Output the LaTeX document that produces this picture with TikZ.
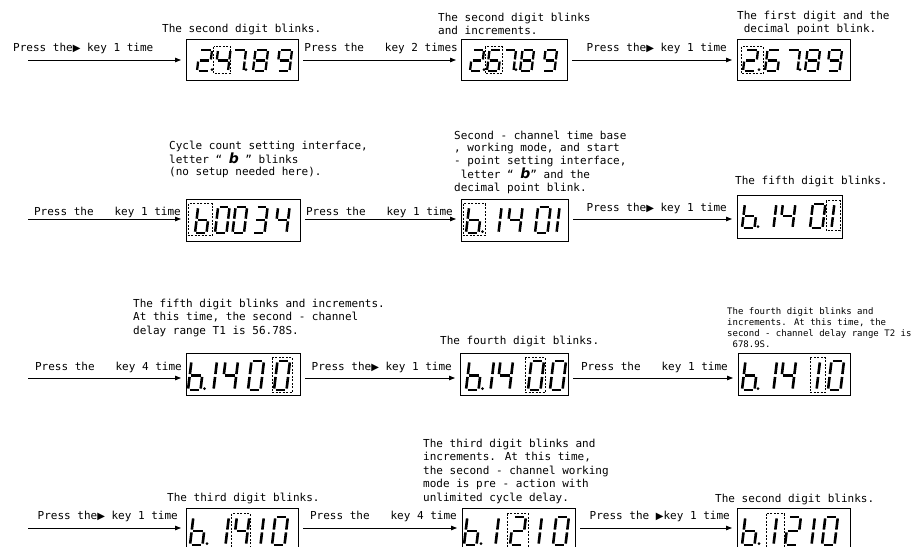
\documentclass[tikz,border=0pt]{standalone}
\usepackage{fontspec}
\setmainfont{DejaVu Sans Mono}
\newfontfamily\symfont{DejaVu Sans}
\usetikzlibrary{arrows.meta}
\makeatletter
\newcommand\sdig[2]{%
  \begin{scope}[shift={(#1,\db)},xslant=0.12]
    \foreach \n/\xa/\ya/\xb/\yb in {a/0.12/1/0.88/1,b/1/0.95/1/0.55,c/1/0.45/1/0.05,d/0.12/0/0.88/0,e/0/0.45/0/0.05,f/0/0.95/0/0.55,g/0.12/0.5/0.88/0.5}{%
      \expandafter\in@\expandafter{\n}{#2}%
      \ifin@\draw[seg] ({\xa*\dw},{-\ya*\dh}) -- ({\xb*\dw},{-\yb*\dh});\fi}%
  \end{scope}}
\makeatother
\newcommand\sdp[1]{\fill (#1,{\db-1.3}) circle (1.5pt);}
\newcommand\sdash[2]{\draw[dashbox] (#1,{\db-\dh-3.5}) rectangle (#2,{\db+2.5});}
\newcommand\tri{{\symfont\fontsize{10}{10}\selectfont ▶}}
\newcommand\notri{\phantom{\tri}}
\newcommand\bbig{{\symfont\bfseries\itshape\fontsize{14}{14}\selectfont b}}
\def\dw{12.5}\def\dh{21}\def\db{32}\def\dl{2.3pt}
\tikzset{
  seg/.style={line width=\dl, line cap=butt},
  dashbox/.style={line width=0.5pt, dash pattern=on 2pt off 1.5pt},
  disp/.style={draw, line width=0.9pt, inner sep=0pt, outer sep=0pt, anchor=north west},
  arr/.style={-{Triangle[length=6pt,width=4.5pt]}, line width=0.8pt, shorten >=5pt},
  lbl/.style={inner sep=0pt, anchor=base west, font=\fontsize{11}{13.5}\selectfont},
  lble/.style={lbl, anchor=base east},
  note/.style={inner sep=0pt, anchor=north west, align=left, font=\fontsize{11}{13.5}\selectfont},
  smallnote/.style={inner sep=0pt, anchor=north west, align=left, font=\fontsize{9}{11.2}\selectfont},
}
\begin{document}
\begin{tikzpicture}[x=1pt,y=-1pt]
\useasboundingbox (0,0) rectangle (912,546);
% ---------- Row 1 ----------
\node[disp, minimum width=112pt, minimum height=41pt] (d1) at (186,39) {};
\node[disp, minimum width=106pt, minimum height=41pt] (d2) at (461,39) {};
\node[disp, minimum width=113pt, minimum height=41pt] (d3) at (737,39) {};
\begin{scope}[shift={(d1.north west)}]
 \sdig{11}{abdeg}\sdp{26}
 \sdash{27.5}{44.5}\sdig{29.5}{bcfg}
 \sdig{45}{abc}\sdp{60}
 \sdig{67}{abcdefg}
 \sdig{91}{abcdfg}
\end{scope}
\begin{scope}[shift={(d2.north west)}]
 \def\dw{11.5}
 \sdig{9}{abdeg}\sdp{23}
 \sdash{24}{41}\sdig{26}{acdefg}
 \sdig{41}{abc}\sdp{55}
 \sdig{59}{abcdefg}
 \sdig{82}{abcdfg}
\end{scope}
\begin{scope}[shift={(d3.north west)}]
 \sdash{4}{26}\sdig{6}{abdeg}\sdp{22}
 \sdig{28}{acdefg}
 \sdig{48}{abc}\sdp{63}
 \sdig{68}{abcdefg}
 \sdig{90}{abcdfg}
\end{scope}
\coordinate (s1) at (28,60);
\draw[arr] (s1) -- (s1 -| d1.west);
\draw[arr, shorten <=5pt] (s1 -| d1.east) -- (s1 -| d2.west);
\draw[arr, shorten <=5pt] (s1 -| d2.east) -- (s1 -| d3.west);
\node[lbl] (p1) at (13,51) {Press the\tri{} key 1 time};
\node[lble] (p2) at (458,51) {Press the \notri{} key 2 times};
\node[lble] (p3) at (727,51) {Press the\tri{} key 1 time};
\node[lbl] (n1) at (162,32) {The second digit blinks.};
\node[note] (n2) at (438,12.6) {The second digit blinks\\and increments.};
\node[note] (n3) at (737,10.6) {The first digit and the\\~decimal point blink.};
% ---------- Row 2 ----------
\node[disp, minimum width=114pt, minimum height=42pt] (d4) at (186,199) {};
\node[disp, minimum width=107pt, minimum height=42pt] (d5) at (461,199) {};
\node[disp, minimum width=105pt, minimum height=43pt] (d6) at (737,195) {};
\begin{scope}[shift={(d4.north west)}]
 \def\dw{11.5}\def\dh{26}\def\db{34}\def\dl{2.5pt}
 \sdash{2}{26}\sdig{9}{cdefg}
 \sdig{29}{abcdef}
 \sdig{46.5}{abcdef}
 \sdig{67}{abcdg}
 \sdig{89}{bcfg}
\end{scope}
\begin{scope}[shift={(d5.north west)}]
 \def\dh{26}\def\db{34}\def\dl{2.5pt}
 \sdash{2}{24}\sdig{5}{cdefg}\sdp{21.5}
 \sdig{25}{bc}
 \sdig{46}{bcfg}
 \sdig{74}{abcdef}
 \sdig{83}{bc}
\end{scope}
\begin{scope}[shift={(d6.north west)}]
 \def\dh{24}\def\db{33}\def\dl{2.5pt}
 \sdig{5}{cdefg}\sdp{21}
 \sdig{24}{bc}
 \sdig{43}{bcfg}
 \sdig{73}{abcdef}
 \sdash{89}{103}\sdig{82}{bc}
\end{scope}
\coordinate (s2) at (28,219);
\draw[arr] (s2) -- (s2 -| d4.west);
\draw[arr, shorten <=5pt] (s2 -| d4.east) -- (s2 -| d5.west);
\draw[arr, shorten <=5pt] (s2 -| d5.east) -- (s2 -| d6.west);
\node[lble] (p4) at (181,215) {Press the \notri{} key 1 time};
\node[lble] (p5) at (453,215) {Press the \notri{} key 1 time};
\node[lble] (p6) at (727,211) {Press the\tri{} key 1 time};
\node[note, font=\fontsize{11}{12.7}\selectfont] (n4) at (169,140.6) {Cycle count setting interface,\\letter “ \bbig{} ” blinks\\(no setup needed here).};
\node[note, font=\fontsize{11}{12.7}\selectfont] (n5) at (454,130.6) {Second - channel time base\\, working mode, and start\\- point setting interface,\\~letter “ \bbig” and the\\decimal point blink.};
\node[lbl] (n6) at (735,184) {The fifth digit blinks.};
% ---------- Row 3 ----------
\node[disp, minimum width=114pt, minimum height=42pt] (d7) at (186,353) {};
\node[disp, minimum width=108pt, minimum height=42pt] (d8) at (460,353) {};
\node[disp, minimum width=112pt, minimum height=42pt] (d9) at (738,353) {};
\begin{scope}[shift={(d7.north west)}]
 \def\dh{29}\def\db{37}\def\dl{2.6pt}
 \sdig{2}{cdefg}\sdp{18.5}
 \sdig{15}{bc}
 \sdig{36}{bcfg}
 \sdig{62}{abcdef}
 \sdash{86}{106}\sdig{88}{abcdef}
\end{scope}
\begin{scope}[shift={(d8.north west)}]
 \def\dh{29}\def\db{37}\def\dl{2.6pt}
 \sdig{6}{cdefg}\sdp{22.5}
 \sdig{18}{bc}
 \sdig{37}{bcfg}
 \sdash{65}{85}\sdig{68}{abcdef}
 \sdig{90}{abcdef}
\end{scope}
\begin{scope}[shift={(d9.north west)}]
 \def\dh{29}\def\db{37}\def\dl{2.6pt}
 \sdig{4}{cdefg}\sdp{20}
 \sdig{23}{bc}
 \sdig{42}{bcfg}
 \sdash{72}{87}\sdig{66}{bc}
 \sdig{90}{abcdef}
\end{scope}
\coordinate (s3) at (28,378);
\draw[arr] (s3) -- (s3 -| d7.west);
\draw[arr, shorten <=5pt] (s3 -| d7.east) -- (s3 -| d8.west);
\draw[arr, shorten <=5pt] (s3 -| d8.east) -- (s3 -| d9.west);
\node[lble] (p7) at (182,370) {Press the \notri{} key 4 time};
\node[lble] (p8) at (452,370) {Press the\tri{} key 1 time};
\node[lble] (p9) at (728,370) {Press the \notri{} key 1 time};
\node[note] (n7) at (133,298.6) {The fifth digit blinks and increments.\\At this time, the second - channel\\delay range T1 is 56.78S.};
\node[lbl] (n8) at (440,344) {The fourth digit blinks.};
\node[smallnote] (n9) at (727,307.1) {The fourth digit blinks and\\increments. At this time, the\\second - channel delay range T2 is\\~678.9S.};
% ---------- Row 4 ----------
\node[disp, minimum width=112pt, minimum height=44pt] (d10) at (186,508) {};
\node[disp, minimum width=113pt, minimum height=44pt] (d11) at (462,508) {};
\node[disp, minimum width=113pt, minimum height=44pt] (d12) at (737,508) {};
\begin{scope}[shift={(d10.north west)}]
 \def\dh{28}\def\db{37}\def\dl{2.6pt}
 \sdig{4}{cdefg}\sdp{21}
 \sdig{27}{bc}
 \sdash{45.5}{64}\sdig{47.5}{bcfg}
 \sdig{62}{bc}
 \sdig{86}{abcdef}
\end{scope}
\begin{scope}[shift={(d11.north west)}]
 \def\dh{28}\def\db{37}\def\dl{2.6pt}
 \sdig{2}{cdefg}\sdp{19}
 \sdig{21}{bc}
 \sdash{45}{66}\sdig{48}{abdeg}
 \sdig{64}{bc}
 \sdig{91}{abcdef}
\end{scope}
\begin{scope}[shift={(d12.north west)}]
 \def\dh{28}\def\db{37}\def\dl{2.6pt}
 \sdig{5}{cdefg}\sdp{22}
 \sdash{29}{47}\sdig{24}{bc}
 \sdig{48}{abdeg}
 \sdig{62}{bc}
 \sdig{85}{abcdef}
\end{scope}
\coordinate (s4) at (28,528);
\draw[arr] (s4) -- (s4 -| d10.west);
\draw[arr, shorten <=5pt] (s4 -| d10.east) -- (s4 -| d11.west);
\draw[arr, shorten <=5pt] (s4 -| d11.east) -- (s4 -| d12.west);
\node[lble] (p10) at (178,519) {Press the\tri{} key 1 time};
\node[lble] (p11) at (457,519) {Press the \notri{} key 4 time};
\node[lble] (p12) at (730,519) {Press the \tri{}key 1 time};
\node[lbl] (n10) at (167,501) {The third digit blinks.};
\node[note] (n11) at (423,438.6) {The third digit blinks and\\increments. At this time,\\the second - channel working\\mode is pre - action with\\unlimited cycle delay.};
\node[lbl] (n12) at (715,502) {The second digit blinks.};
\end{tikzpicture}
\end{document}
